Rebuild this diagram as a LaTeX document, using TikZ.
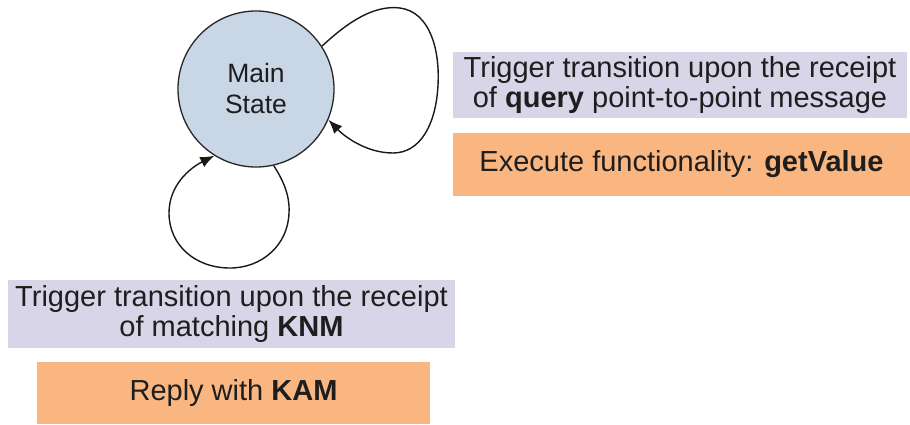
\documentclass[tikz,border=0pt]{standalone}
\usepackage{fontspec}
\setmainfont{Liberation Sans}
\usetikzlibrary{arrows.meta}
\definecolor{boxpurple}{RGB}{217,213,232}
\definecolor{boxorange}{RGB}{249,182,128}
\definecolor{statefill}{RGB}{200,214,229}
\definecolor{inktext}{RGB}{30,30,30}
\begin{document}
\begin{tikzpicture}[x=1pt,y=-1pt,
  statenode/.style={circle,draw=black!85,line width=1.3pt,fill=statefill,minimum size=156pt,inner sep=0pt,
    align=center,text=inktext,font=\fontsize{26.5}{31}\selectfont},
  trigbox/.style={fill=boxpurple,inner sep=0pt,align=center,text=inktext,font=\fontsize{29}{30}\selectfont},
  actbox/.style={fill=boxorange,inner sep=0pt,align=center,text=inktext,font=\fontsize{29}{30}\selectfont},
  loopline/.style={line width=1.4pt,black!90,-{Latex[length=14pt,width=11pt]}}]
\useasboundingbox (0,0) rectangle (910,424);
\node[statenode] (main) at (256,89) {Main\\State};
\node[trigbox,minimum width=454pt,minimum height=66pt] (trigq) at (680,85)
  {Trigger transition upon the receipt\\of \textbf{query} point-to-point message};
\node[actbox,minimum width=457pt,minimum height=63pt] (actq) at (681.5,164.5)
  {Execute functionality: \textbf{getValue}};
\node[trigbox,minimum width=447pt,minimum height=68pt] (trigk) at (231.5,314)
  {Trigger transition upon the receipt\\of matching \textbf{KNM}};
\node[actbox,minimum width=393pt,minimum height=62pt] (actk) at (233.5,393)
  {Reply with \textbf{KAM}};
\draw[loopline] (main.33) .. controls (350,20) and (375,5) .. (400,8)
  .. controls (430,12) and (440,50) .. (438,85)
  .. controls (436,125) and (420,153) .. (393,153)
  .. controls (365,153) and (343,135) .. (main.-23);
\draw[loopline] (main.-77) .. controls (283,180) and (290,195) .. (289,213)
  .. controls (288,245) and (262,268) .. (230,268)
  .. controls (195,268) and (169,245) .. (169,213)
  .. controls (169,185) and (190,168) .. (main.-122);
\end{tikzpicture}
\end{document}
